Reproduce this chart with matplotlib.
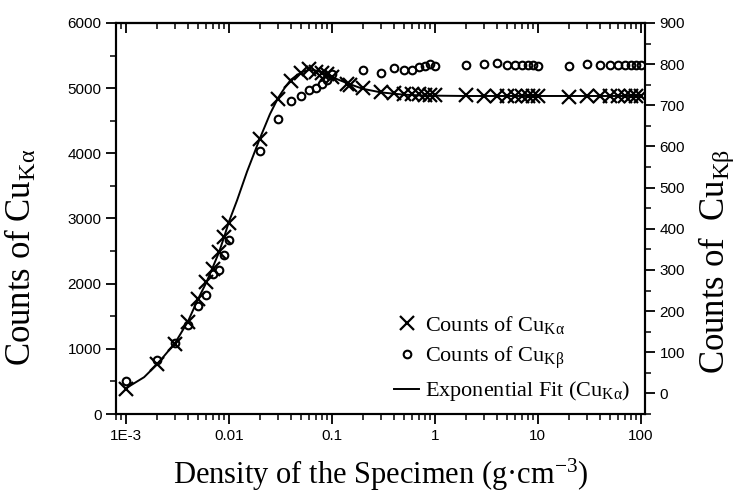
import matplotlib.pyplot as plt
import numpy as np
from matplotlib.ticker import FixedLocator, FixedFormatter, LogLocator, NullFormatter, MultipleLocator

plt.rcParams['mathtext.fontset'] = 'custom'
plt.rcParams['mathtext.rm'] = 'Liberation Serif'
plt.rcParams['mathtext.it'] = 'Liberation Serif:italic'

# density of the specimen (g/cm^3)
density = [0.001, 0.002, 0.003, 0.004, 0.005, 0.006, 0.007, 0.008, 0.009, 0.01,
           0.02, 0.03, 0.04, 0.05, 0.06, 0.07, 0.08, 0.09, 0.1,
           0.2, 0.3, 0.4, 0.5, 0.6, 0.7, 0.8, 0.9, 1,
           2, 3, 4, 5, 6, 7, 8, 9, 10,
           20, 30, 40, 50, 60, 70, 80, 90, 100]

# Cu K-alpha counts (left axis)
counts_ka = [390, 770, 1080, 1415, 1770, 2020, 2225, 2490, 2720, 2930,
             4226, 4840, 5112, 5240, 5290, 5250, 5235, 5225, 5170,
             4995, 4935, 4920, 4915, 4910, 4905, 4900, 4900, 4895,
             4890, 4885, 4885, 4885, 4885, 4885, 4885, 4885, 4885,
             4870, 4875, 4875, 4875, 4875, 4875, 4875, 4875, 4875]

# extra K-alpha points around 0.15 (the dark blob)
density_extra = [0.14, 0.15]
counts_ka_extra = [5070, 5050]

# Cu K-beta counts (right axis)
counts_kb = [30, 80, 122, 167, 213, 240, 290, 299, 337, 373,
             590, 666, 711, 723, 738, 743, 752, 762, 777,
             787, 778, 790, 787, 785, 794, 796, 800, 796,
             798, 800, 802, 798, 797, 797, 797, 797, 796,
             795, 800, 798, 798, 798, 798, 798, 798, 798]

# exponential fit curve
fit_x = [0.001, 0.0015, 0.002, 0.003, 0.004, 0.005, 0.006, 0.007, 0.008, 0.009, 0.01,
         0.012, 0.015, 0.02, 0.025, 0.03, 0.035, 0.04, 0.05, 0.06, 0.07, 0.08, 0.1,
         0.15, 0.2, 0.3, 0.5, 0.7, 1, 2, 5, 100]
fit_y = [395, 565, 760, 1090, 1420, 1760, 2010, 2260, 2480, 2720, 2950,
         3280, 3720, 4230, 4600, 4850, 5010, 5130, 5240, 5280, 5270, 5240, 5170,
         5060, 4990, 4935, 4900, 4890, 4885, 4880, 4880, 4880]

xtick_vals = [0.001, 0.01, 0.1, 1, 10, 100]
xtick_labels = ['1E-3', '0.01', '0.1', '1', '10', '100']

fig = plt.figure(figsize=(7.38, 4.94), dpi=100)
ax = fig.add_axes([116/738, 80/494, 529/738, 391/494])
ax2 = ax.twinx()

sub_a = r'$_{\mathrm{Kα}}$'
sub_b = r'$_{\mathrm{Kβ}}$'

l_fit, = ax.plot(fit_x, fit_y, color='black', lw=1.4, zorder=2)
l_ka, = ax.plot(density, counts_ka, ls='none', marker='x', ms=9.5, mew=1.6, color='black', zorder=3)
ax.plot(density_extra, counts_ka_extra, ls='none', marker='x', ms=9.5, mew=1.6, color='black', zorder=3)
l_kb, = ax2.plot(density, counts_kb, ls='none', marker='o', ms=5.5, mew=1.5, mfc='none', color='black')

ax.set_xscale('log')
ax.set_xlim(8e-4, 110)
ax.set_ylim(0, 6000)
ax2.set_ylim(-50, 900)

ax.xaxis.set_major_locator(FixedLocator(xtick_vals))
ax.xaxis.set_major_formatter(FixedFormatter(xtick_labels))
ax.xaxis.set_minor_locator(LogLocator(base=10, subs=np.arange(2, 10), numticks=20))
ax.xaxis.set_minor_formatter(NullFormatter())
ax.yaxis.set_major_locator(MultipleLocator(1000))
ax.yaxis.set_minor_locator(MultipleLocator(500))
ax2.yaxis.set_major_locator(FixedLocator(np.arange(0, 901, 100)))
ax2.yaxis.set_minor_locator(MultipleLocator(50))

for a in (ax, ax2):
    for s in a.spines.values():
        s.set_linewidth(1.5)
    a.tick_params(which='major', direction='out', length=7, width=1.3, labelsize=11)
    a.tick_params(which='minor', direction='out', length=4, width=1.1)
for lab in ax.get_xticklabels() + ax.get_yticklabels() + ax2.get_yticklabels():
    lab.set_fontfamily('Liberation Sans')

top = ax.secondary_xaxis('top')
top.xaxis.set_major_locator(FixedLocator(xtick_vals))
top.xaxis.set_minor_locator(LogLocator(base=10, subs=np.arange(2, 10), numticks=20))
top.xaxis.set_major_formatter(NullFormatter())
top.xaxis.set_minor_formatter(NullFormatter())
top.tick_params(which='major', direction='in', length=7, width=1.3)
top.tick_params(which='minor', direction='in', length=4, width=1.1)
top.spines['top'].set_linewidth(1.5)

serif = 'Liberation Serif'
ax.set_xlabel('Density of the Specimen (g·cm$^{-3}$)', fontsize=22, family=serif, labelpad=10)
ax.set_ylabel('Counts of Cu' + sub_a, fontsize=25, family=serif)
ax2.set_ylabel('Counts of  Cu' + sub_b, fontsize=25, family=serif)
ax.yaxis.set_label_coords(-0.146, 0.40)
ax2.yaxis.set_label_coords(1.098, 0.39)

leg = ax2.legend([l_ka, l_kb, l_fit],
                 ['Counts of Cu' + sub_a, 'Counts of Cu' + sub_b, 'Exponential Fit (Cu' + sub_a + ')'],
                 loc='lower left', bbox_to_anchor=(0.525, 0.027), frameon=False,
                 borderpad=0, borderaxespad=0,
                 prop={'family': serif, 'size': 16}, handlelength=1.15, handletextpad=0.25,
                 labelspacing=0.38)

plt.savefig('out.png', dpi=100)
